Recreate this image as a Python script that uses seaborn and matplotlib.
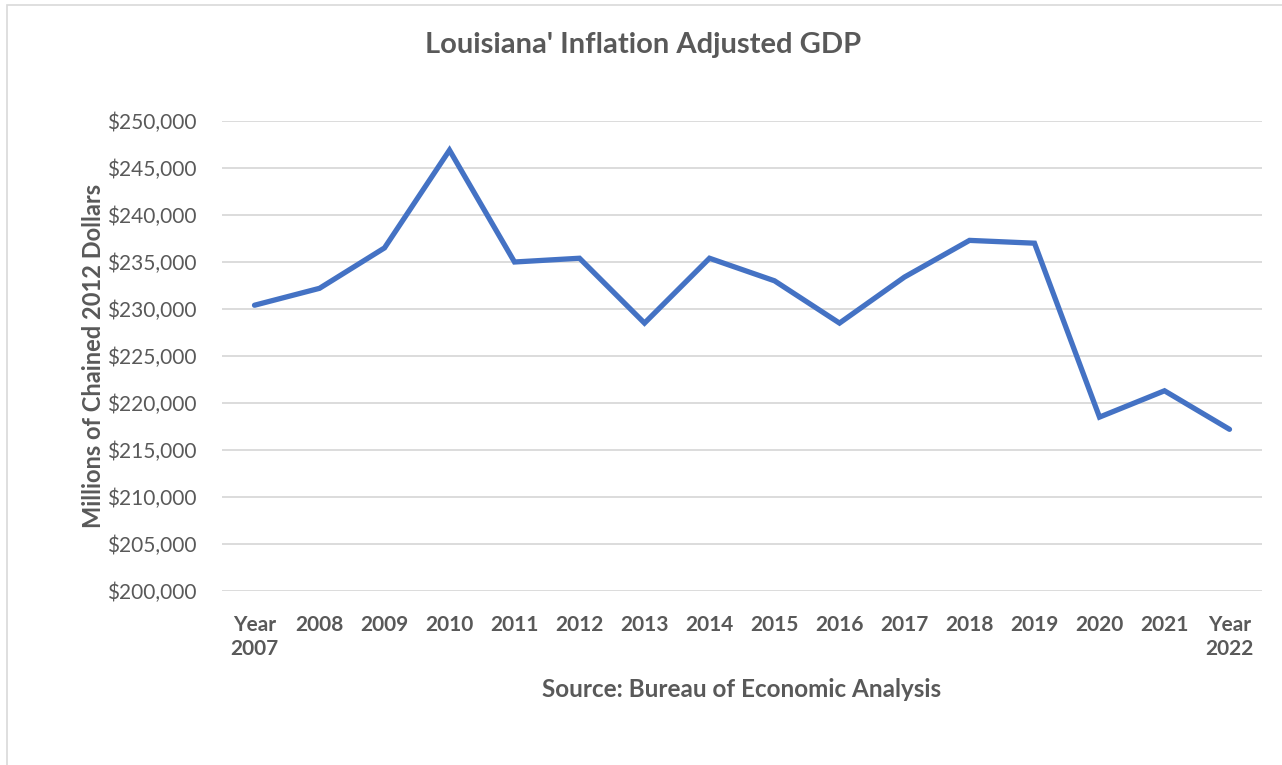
import matplotlib
matplotlib.use("Agg")
import matplotlib.pyplot as plt
import seaborn as sns
import pandas as pd
from matplotlib.patches import Rectangle

years = ["Year\n2007", "2008", "2009", "2010", "2011", "2012", "2013", "2014",
         "2015", "2016", "2017", "2018", "2019", "2020", "2021", "Year\n2022"]
gdp = [230400, 232200, 236500, 246900, 235000, 235400, 228500, 235400,
       233000, 228500, 233400, 237300, 237000, 218500, 221300, 217200]
yticks = [200000, 205000, 210000, 215000, 220000, 225000, 230000, 235000,
          240000, 245000, 250000]

sns.set_theme(style="white")
plt.rcParams['font.family'] = ['Lato', 'DejaVu Sans']

df = pd.DataFrame({"pos": range(len(years)), "gdp": gdp})

fig = plt.figure(figsize=(12.82, 7.65), dpi=100)
ax = fig.add_axes([222/1282, 1-591/765, 1040/1282, (591-121)/765])

sns.lineplot(data=df, x="pos", y="gdp", ax=ax, color="#4472C4", linewidth=3.8,
             solid_joinstyle="miter", solid_capstyle="round")

ax.set_xlim(-0.5, len(years)-0.5)
ax.set_ylim(200000, 250000)
ax.set_yticks(yticks)
ax.set_yticklabels([f"${v:,.0f}" for v in yticks], color="#595959", fontsize=15)
ax.set_xticks(range(len(years)))
ax.set_xticklabels(years, color="#595959", fontsize=15, fontweight="bold",
                   linespacing=1.25, va="top")
ax.tick_params(axis="y", length=0, pad=18)
ax.tick_params(axis="x", length=0, pad=17)
ax.grid(axis="y", color="#D9D9D9", linewidth=1.3)
ax.set_axisbelow(True)
for s in ax.spines.values():
    s.set_visible(False)

ax.set_xlabel("Source: Bureau of Economic Analysis", color="#595959", fontsize=17.5,
              fontweight="bold", labelpad=14)
ax.set_ylabel("Millions of Chained 2012 Dollars", color="#595959", fontsize=17,
              fontweight="bold", labelpad=2)

fig.text(643/1282, 1-45/765, "Louisiana' Inflation Adjusted GDP", ha="center", va="center",
         color="#595959", fontsize=21, fontweight="bold")

fig.patches.append(Rectangle((7/1282, -0.01), 1.1, 1-5/765+0.01, transform=fig.transFigure,
                             fill=False, edgecolor="#D9D9D9", linewidth=1.2))

fig.savefig("out.png", dpi=100)
